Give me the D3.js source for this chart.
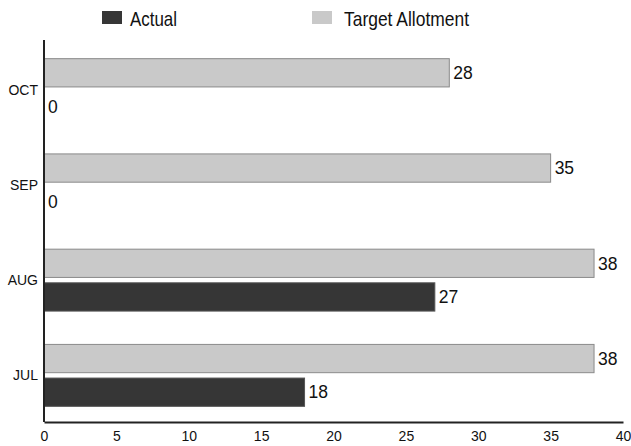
<!DOCTYPE html>
<html>
<head>
<meta charset="utf-8">
<script src="https://cdn.jsdelivr.net/npm/d3@7"></script>
<style>
  body { margin: 0; background: #fff; }
  text { font-family: "Liberation Sans", Arial, sans-serif; fill: #111; }
</style>
</head>
<body>
<div id="chart"></div>
<script>
// data
var months = ["OCT", "SEP", "AUG", "JUL"];
var seriesNames = ["Target Allotment", "Actual"];
var targetValues = [28, 35, 38, 38];
var actualValues = [0, 0, 27, 18];
var xTicks = [0, 5, 10, 15, 20, 25, 30, 35, 40];

(function() {
  var colors = { "Target Allotment": "#c9c9c9", "Actual": "#363636" };
  var strokes = { "Target Allotment": "#8a8a8a", "Actual": "#555" };

  var width = 631, height = 446;
  var plotLeft = 44, plotRight = 623, plotTop = 41, plotBottom = 422;

  var svg = d3.select("#chart").append("svg")
    .attr("width", width)
    .attr("height", height);

  var x = d3.scaleLinear().domain([0, 40]).range([plotLeft, plotRight]);
  var y = d3.scaleBand().domain(months).range([plotTop, plotBottom])
    .paddingInner(0.35).paddingOuter(0.175);
  var ySub = d3.scaleBand().domain(seriesNames).range([0, y.bandwidth()])
    .paddingInner(0.16);

  var rows = months.map(function(m, i) {
    return { month: m, values: [
      { name: "Target Allotment", value: targetValues[i] },
      { name: "Actual", value: actualValues[i] }
    ]};
  });

  var groups = svg.selectAll("g.row")
    .data(rows)
    .enter().append("g")
    .attr("class", "row")
    .attr("transform", function(d) { return "translate(0," + (y(d.month) + 1) + ")"; });

  groups.selectAll("rect")
    .data(function(d) { return d.values; })
    .enter().append("rect")
    .attr("x", x(0))
    .attr("y", function(d) { return ySub(d.name); })
    .attr("width", function(d) { return x(d.value) - x(0); })
    .attr("height", ySub.bandwidth())
    .attr("fill", function(d) { return colors[d.name]; })
    .attr("stroke", function(d) { return d.value > 0 ? strokes[d.name] : "none"; })
    .attr("stroke-width", 1);

  groups.selectAll("text.val")
    .data(function(d) { return d.values; })
    .enter().append("text")
    .attr("class", "val")
    .attr("x", function(d) { return x(d.value) + 4; })
    .attr("y", function(d) { return ySub(d.name) + ySub.bandwidth() / 2; })
    .attr("dy", "0.36em")
    .style("font-size", "17.5px")
    .text(function(d) { return d.value; });

  // month labels
  svg.selectAll("text.cat")
    .data(months)
    .enter().append("text")
    .attr("class", "cat")
    .attr("x", plotLeft - 6)
    .attr("y", function(d) { return y(d) + y.bandwidth() / 2 + 1; })
    .attr("dy", "0.36em")
    .attr("text-anchor", "end")
    .style("font-size", "14px")
    .text(function(d) { return d; });

  // axes
  var xAxis = svg.append("g")
    .attr("transform", "translate(0," + plotBottom + ")")
    .call(d3.axisBottom(x).tickValues(xTicks).tickSize(0).tickPadding(9));
  xAxis.select(".domain").attr("stroke", "#222").attr("stroke-width", 2);
  xAxis.selectAll("text").style("font-size", "14px").attr("fill", "#111")
    .style("font-family", "'Liberation Sans', Arial, sans-serif");

  svg.append("line")
    .attr("x1", plotLeft).attr("x2", plotLeft)
    .attr("y1", 40).attr("y2", plotBottom)
    .attr("stroke", "#222").attr("stroke-width", 2);

  // legend
  var legendItems = [
    { name: "Actual", x: 102, tx: 130, len: 47 },
    { name: "Target Allotment", x: 312, tx: 344, len: 125 }
  ];
  var legend = svg.selectAll("g.legend")
    .data(legendItems)
    .enter().append("g")
    .attr("class", "legend");
  legend.append("rect")
    .attr("x", function(d) { return d.x; })
    .attr("y", 11)
    .attr("width", 20)
    .attr("height", 13)
    .attr("fill", function(d) { return colors[d.name]; });
  legend.append("text")
    .attr("x", function(d) { return d.tx; })
    .attr("y", 18)
    .attr("dy", "0.36em")
    .attr("textLength", function(d) { return d.len; })
    .attr("lengthAdjust", "spacingAndGlyphs")
    .style("font-size", "21px")
    .text(function(d) { return d.name; });
})();
</script>
</body>
</html>
